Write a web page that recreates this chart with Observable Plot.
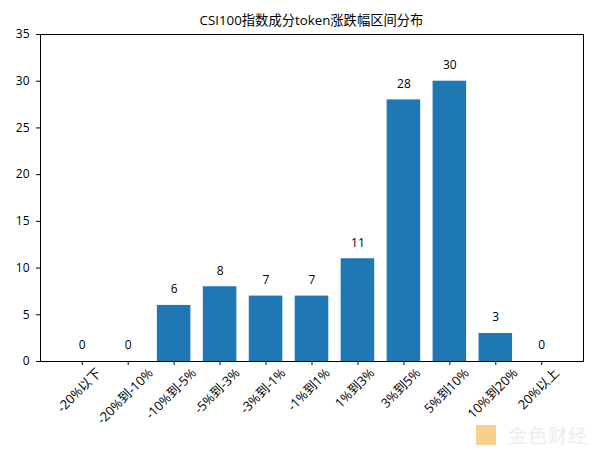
<!DOCTYPE html>
<html><head><meta charset="utf-8">
<script src="https://cdn.jsdelivr.net/npm/d3@7"></script>
<script src="https://cdn.jsdelivr.net/npm/@observablehq/plot@0.6"></script>
<style>
body{margin:0;background:#fff;font-family:"Open Sans","Noto Sans CJK SC",sans-serif;}
#wrap{position:relative;width:600px;height:450px;overflow:hidden;background:#fff;}
#title{height:28px;box-sizing:border-box;padding-top:12px;margin-left:40px;width:543px;text-align:center;font-size:13.3px;line-height:16px;color:#000;white-space:nowrap;}
#wm{position:absolute;left:476px;top:423px;height:24px;display:flex;align-items:center;pointer-events:none;}
#wm .ic{width:20px;height:20px;background:#f6c77a;opacity:0.85;margin-right:12px;}
#wm .tx{font-size:19px;color:#ececec;letter-spacing:1px;}
</style></head><body>
<div id="wrap">
<div id="title">CSI100指数成分token涨跌幅区间分布</div>
<div id="chart"></div>
<div id="wm"><div class="ic"></div><div class="tx">金色财经</div></div>
</div>
<script>
const categories = ["-20%以下","-20%到-10%","-10%到-5%","-5%到-3%","-3%到-1%","-1%到1%","1%到3%","3%到5%","5%到10%","10%到20%","20%以上"];
const counts = [0,0,6,8,7,7,11,28,30,3,0];
const yTicks = [0,5,10,15,20,25,30,35];
const yDomain = [0,35];
const watermark = "金色财经";

const data = categories.map((c,i)=>({category:c, count:counts[i]}));
const FONT = '"Open Sans","Noto Sans CJK SC",sans-serif';
const fs = 12;
const fsX = 13;

const plot = Plot.plot({
  width:600, height:422,
  marginTop:6, marginLeft:40, marginRight:17, marginBottom:89,
  style:{fontFamily:FONT, fontSize:fs+"px", color:"#000", background:"#fff", overflow:"visible"},
  x:{type:"band", domain:categories, paddingInner:0.27, paddingOuter:0.5435, round:false, align:0.5},
  y:{domain:yDomain},
  marks:[
    Plot.barY(data,{x:"category", y:"count", fill:"#1f77b4"}),
    Plot.text(data,{x:"category", y:"count", text:d=>String(d.count), dy:-16, fontSize:fs, fill:"#000"}),
    Plot.axisY({ticks:yTicks, tickSize:4, tickPadding:7, label:null, fontSize:fs, stroke:"#000"}),
    Plot.axisX({tickSize:4, tickFormat:()=>"", label:null, stroke:"#000"}),
    Plot.text(data,{x:"category", frameAnchor:"bottom", text:"category", rotate:-45, textAnchor:"middle", className:"xlab", fontSize:fsX, fill:"#000"}),
    Plot.frame({stroke:"#000", strokeWidth:1})
  ]
});
document.getElementById("chart").append(plot);

// place rotated tick labels like matplotlib: rotated bbox centred under tick, top just below tick
// (the mark's group already carries the half-bandwidth offset)
const xs = plot.scale("x");
const bottom = 422 - 89;
const H = fsX*1.15;
plot.querySelectorAll("g.xlab text").forEach((t,i)=>{
  const L = t.getComputedTextLength();
  const cx = xs.apply(categories[i]);
  const cy = bottom + 7 + (L + H)*0.3536;
  t.setAttribute("transform", `translate(${cx},${cy}) rotate(-45)`);
});
document.querySelector("#wm .tx").textContent = watermark;
</script>
</body></html>
